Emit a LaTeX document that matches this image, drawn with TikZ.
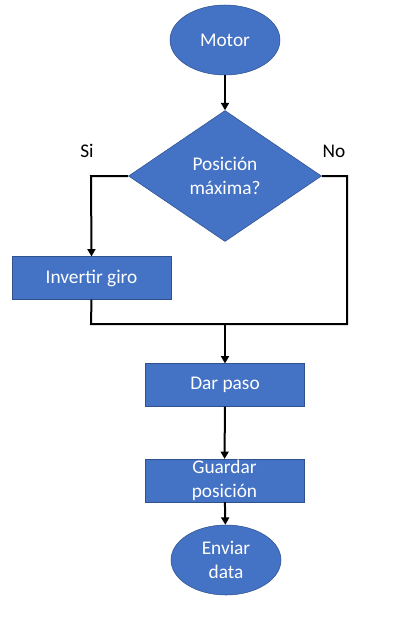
\documentclass[tikz,border=0pt]{standalone}
\usepackage{fontspec}
\setmainfont{Carlito}
\definecolor{boxblue}{RGB}{68, 114, 196}
\definecolor{edgeblue}{RGB}{47, 82, 143}
\usetikzlibrary{shapes, arrows.meta, positioning, calc}

\begin{document}
\begin{tikzpicture}[
  x=0.75pt, y=-0.75pt,
  termbox/.style={ellipse, draw=edgeblue, fill=boxblue, text=white, minimum width=82.5pt, minimum height=52.5pt, inner sep=0pt, align=center, font=\fontsize{14.5}{18}\selectfont},
  procbox/.style={rectangle, draw=edgeblue, fill=boxblue, text=white, minimum width=119pt, minimum height=32pt, inner sep=0pt, align=center, font=\fontsize{14.5}{18}\selectfont},
  askbox/.style={diamond, draw=edgeblue, fill=boxblue, text=white, minimum width=144.75pt, minimum height=98.25pt, inner sep=0pt, align=center, font=\fontsize{14.5}{18}\selectfont},
  flow/.style={line width=1.5pt, -{Triangle[length=5.5pt, width=6pt]}},
  plain/.style={line width=1.5pt}
]
  \useasboundingbox (0,0) rectangle (416,626);

  % Start
  \node[termbox] (motor) at (225, 40) {Motor};

  % Decision
  \node[askbox] (pos) at (225, 176) {Posición\\máxima?};
  \node[font=\fontsize{14.5}{18}\selectfont] (si) at (87, 151) {Si};
  \node[font=\fontsize{14.5}{18}\selectfont] (no) at (334, 151) {No};

  % Steps
  \node[procbox] (inv) at (91.5, 278) {Invertir giro};
  \node[procbox] (paso) at (225, 385) {Dar paso};
  \node[procbox] (guard) at (224.5, 480.5) {Guardar\\posición};
  \node[termbox] (env) at (226, 560) {Enviar\\data};

  % Joints
  \coordinate (lturn) at (91, 176);
  \coordinate (rturn) at (347, 176);
  \coordinate (lbot) at (91, 324);
  \coordinate (rbot) at (347, 324);
  \coordinate (merge) at (225, 324);

  % Connectors
  \draw[flow] (motor) -- (pos);
  \draw[flow] (pos.west) -- (lturn) -- (inv.north);
  \draw[plain] (pos.east) -- (rturn) -- (rbot) -- (lbot) -- (inv.south);
  \draw[flow] (merge) -- (paso);
  \draw[flow] (paso) -- (guard);
  \draw[flow] (guard) -- (env);
\end{tikzpicture}
\end{document}
